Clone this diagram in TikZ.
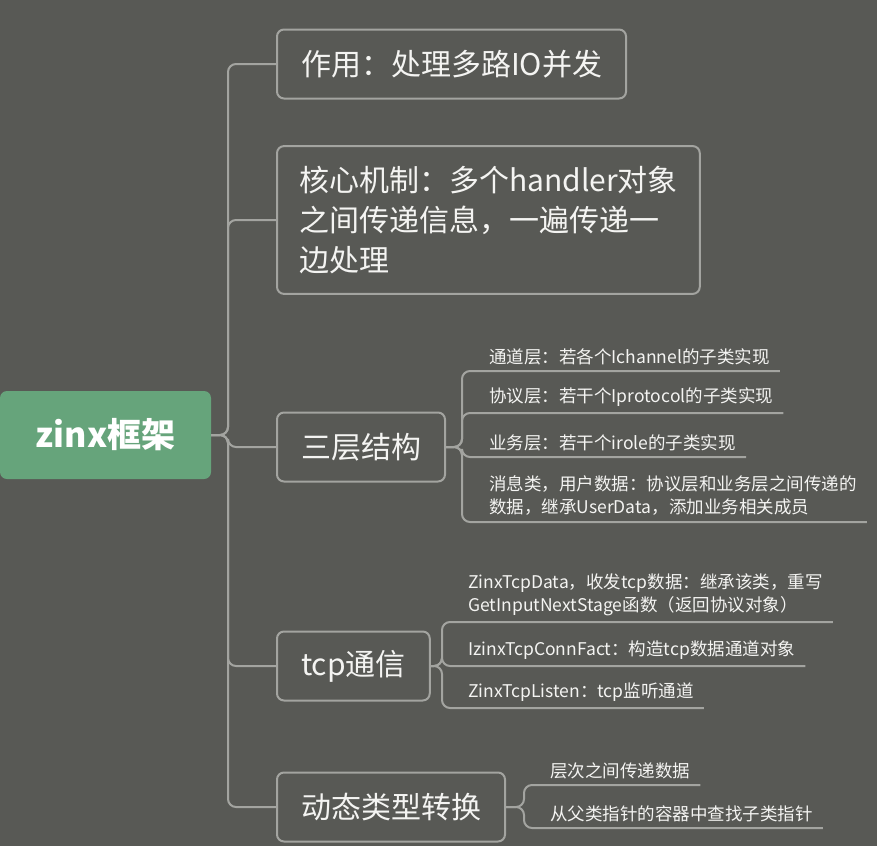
\documentclass[tikz,border=0pt]{standalone}
\usepackage{fontspec}
\setmainfont{Noto Sans CJK SC}
\definecolor{bgcol}{HTML}{585955}
\definecolor{linecol}{HTML}{A3A4A0}
\definecolor{rootcol}{HTML}{66A47B}
\definecolor{txtcol}{HTML}{F4F4F2}
\tikzset{
  root/.style={fill=rootcol, rounded corners=7pt, minimum width=211pt, minimum height=88pt,
    inner sep=0pt, text=white, font=\fontsize{34}{40}\selectfont\bfseries},
  topic/.style={draw=linecol, line width=2pt, rounded corners=7pt, inner xsep=24pt,
    inner ysep=18pt, minimum height=69pt, align=left, anchor=west, text=txtcol,
    font=\fontsize{30}{40}\selectfont},
  subtopic/.style={inner xsep=10pt, inner ysep=6pt, align=left, anchor=south west,
    text=txtcol, font=\fontsize{17.5}{23}\selectfont},
  branch/.style={draw=linecol, line width=2pt, rounded corners=8pt},
}
\begin{document}
\begin{tikzpicture}[x=1pt,y=-1pt]
    \fill[bgcol] (0,0) rectangle (877,846);
    \useasboundingbox (0,0) rectangle (877,846);
    % root and main topics
    \node[root] (zinx) at (105.5,435) {zinx框架};
    \node[topic] (zuoyong) at (276,64) {作用：处理多路IO并发};
    \node[topic, inner ysep=20pt, inner xsep=22pt] (hexin) at (276,220) {核心机制：多个handler对象\\之间传递信息，一遍传递一\\边处理};
    \node[topic] (sanceng) at (276,447) {三层结构};
    \node[topic] (tcp) at (276,666) {tcp通信};
    \node[topic] (dongtai) at (276,807) {动态类型转换};
    \coordinate (trunk) at (228,435);
    \foreach \t in {zuoyong,hexin,sanceng,tcp,dongtai}
        \draw[branch] (zinx.east) -- (trunk) |- (\t.west);
    % three layers
    \node[subtopic] (tongdao) at (479,371) {通道层：若各个Ichannel的子类实现};
    \node[subtopic] (xieyi) at (479,413) {协议层：若干个Iprotocol的子类实现};
    \node[subtopic] (yewu) at (479,457) {业务层：若干个irole的子类实现};
    \node[subtopic] (xiaoxi) at (479,522) {消息类，用户数据：协议层和业务层之间传递的\\数据，继承UserData，添加业务相关成员};
    \coordinate (j3) at (462,447);
    \foreach \s in {tongdao,xieyi,yewu,xiaoxi}
        \draw[branch] (sanceng.east) -- (j3) |- (\s.south east);
    % tcp
    \node[subtopic] (tcpdata) at (458,622) {ZinxTcpData，收发tcp数据：继承该类，重写\\GetInputNextStage函数（返回协议对象）};
    \node[subtopic] (connfact) at (458,666) {IzinxTcpConnFact：构造tcp数据通道对象};
    \node[subtopic] (listen) at (458,708) {ZinxTcpListen：tcp监听通道};
    \coordinate (j4) at (442,666);
    \foreach \s in {tcpdata,connfact,listen}
        \draw[branch] (tcp.east) -- (j4) |- (\s.south east);
    % dynamic cast
    \node[subtopic] (cengci) at (540,785) {层次之间传递数据};
    \node[subtopic] (chazhao) at (540,828) {从父类指针的容器中查找子类指针};
    \coordinate (j5) at (524,807);
    \foreach \s in {cengci,chazhao}
        \draw[branch] (dongtai.east) -- (j5) |- (\s.south east);
\end{tikzpicture}
\end{document}
